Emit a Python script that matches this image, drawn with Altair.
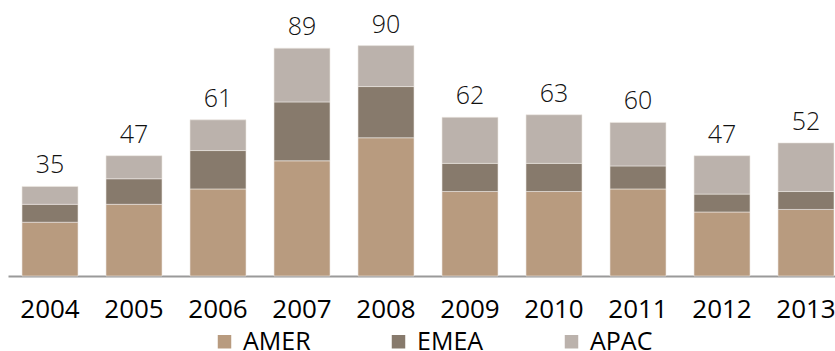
import altair as alt
import pandas as pd

# Regional revenue by year, stacked AMER / EMEA / APAC
years = ["2004", "2005", "2006", "2007", "2008", "2009", "2010", "2011", "2012", "2013"]
amer = [21, 28, 34, 45, 54, 33, 33, 34, 25, 26]
emea = [7, 10, 15, 23, 20, 11, 11, 9, 7, 7]
apac = [7, 9, 12, 21, 16, 18, 19, 17, 15, 19]

regions = ["AMER", "EMEA", "APAC"]
region_colors = ["#B89B7F", "#877A6C", "#BBB2AC"]

rows = []
for i, y in enumerate(years):
    for k, (name, vals) in enumerate(zip(regions, [amer, emea, apac])):
        rows.append({"year": y, "region": name, "value": vals[i], "order": k})
df = pd.DataFrame(rows)
year_df = pd.DataFrame({"year": years})

FONT = "Open Sans"

x_enc = alt.X(
    "year:N",
    sort=years,
    scale=alt.Scale(range=[0, 840], paddingInner=1 / 3, paddingOuter=1 / 6),
    axis=alt.Axis(
        title=None,
        ticks=False,
        labels=False,
        domainColor="#9A9A9A",
        domainWidth=2,
    ),
)
y_scale = alt.Scale(domain=[0, 100])

bars = alt.Chart(df).mark_bar(stroke="#EDE8E3", strokeWidth=0.6).encode(
    x=x_enc,
    y=alt.Y("sum(value):Q", scale=y_scale, axis=None, stack="zero"),
    color=alt.Color(
        "region:N",
        sort=regions,
        scale=alt.Scale(domain=regions, range=region_colors),
        legend=alt.Legend(
            title=None,
            orient="none",
            direction="horizontal",
            legendX=204,
            legendY=309,
            padding=0,
            symbolType="square",
            symbolSize=182,
            symbolStrokeWidth=0,
            labelFont=FONT,
            labelFontSize=25,
            labelFontWeight=500,
            labelColor="#000000",
            labelOffset=6,
            labelLimit=200,
            columnPadding=75,
        ),
    ),
    order=alt.Order("order:Q", sort="ascending"),
)

# year labels under each bar
year_labels = alt.Chart(year_df).mark_text(
    font=FONT, fontSize=26, fontWeight=500, color="#000000",
    baseline="alphabetic", align="center",
).encode(
    x=alt.X("year:N", sort=years),
    y=alt.value(298),
    text="year:N",
)

totals = alt.Chart(df).mark_text(
    font=FONT, fontSize=25, fontWeight=300, color="#111111", baseline="alphabetic", dy=-13
).encode(
    x=alt.X("year:N", sort=years),
    y=alt.Y("sum(value):Q", scale=y_scale),
    text=alt.Text("sum(value):Q"),
)

chart = (
    alt.layer(bars, totals, year_labels)
    .properties(
        width=827,
        height=256,
        autosize=alt.AutoSizeParams(type="none"),
        padding={"left": 8, "top": 20, "right": 0, "bottom": 75},
        background="#FFFFFF",
    )
    .configure_view(stroke=None)
)

chart.save("out.html", embed_options={"renderer": "svg", "actions": False})
